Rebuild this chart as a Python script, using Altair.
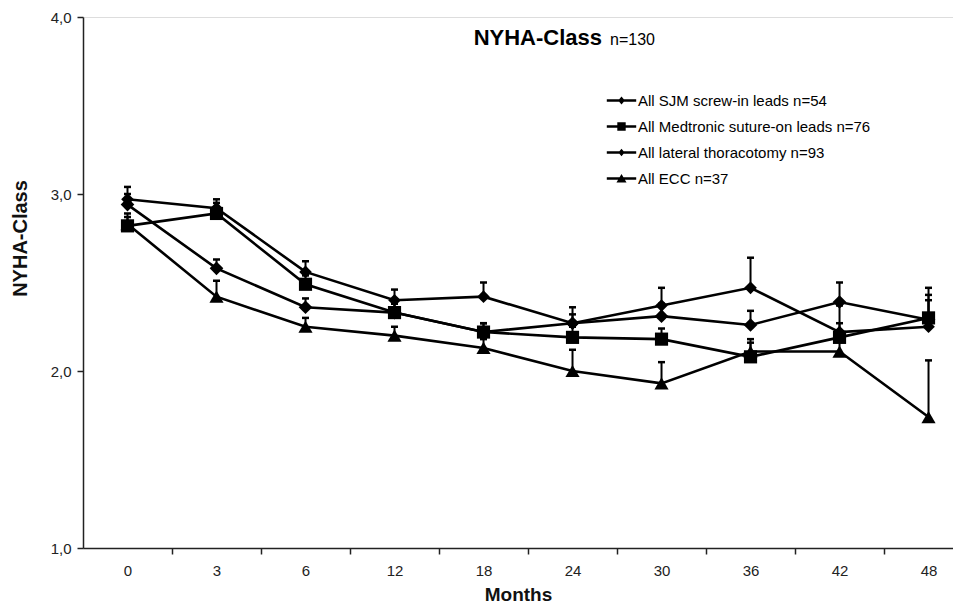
import altair as alt
import pandas as pd

months = ["0", "3", "6", "12", "18", "24", "30", "36", "42", "48"]
series_names = [
    "All SJM screw-in leads n=54",
    "All Medtronic suture-on leads n=76",
    "All lateral thoracotomy n=93",
    "All ECC n=37",
]
sjm = [2.97, 2.92, 2.56, 2.40, 2.42, 2.27, 2.37, 2.47, 2.22, 2.25]
sjm_err = [0.07, 0.05, 0.06, 0.06, 0.08, 0.09, 0.10, 0.17, 0.15, 0.18]
med = [2.82, 2.89, 2.49, 2.33, 2.22, 2.19, 2.18, 2.08, 2.19, 2.30]
med_err = [0.05, 0.06, 0.05, 0.05, 0.05, 0.06, 0.06, 0.08, 0.08, 0.17]
lat = [2.94, 2.58, 2.36, 2.33, 2.22, 2.27, 2.31, 2.26, 2.39, 2.29]
lat_err = [0.06, 0.05, 0.05, 0.05, 0.05, 0.05, 0.07, 0.08, 0.11, 0.11]
ecc = [2.83, 2.42, 2.25, 2.20, 2.13, 2.00, 1.93, 2.11, 2.11, 1.74]
ecc_err = [0.06, 0.09, 0.05, 0.05, 0.05, 0.12, 0.12, 0.07, 0.08, 0.32]

rows = []
for s, vals, errs in zip(series_names, [sjm, med, lat, ecc], [sjm_err, med_err, lat_err, ecc_err]):
    for i, (m, v, e) in enumerate(zip(months, vals, errs)):
        rows.append({"series": s, "idx": i, "month": m, "value": v, "top": round(v + e, 3)})
df = pd.DataFrame(rows)

FONT = "Liberation Sans"
month_js = "[" + ",".join("'%s'" % m for m in months) + "]"
x_values = [v / 2 for v in range(0, 19)]

x_scale = alt.Scale(domain=[-0.5, 9.275], nice=False, zero=False)
y_scale = alt.Scale(domain=[1, 4], nice=False, zero=False)

x_axis = alt.Axis(
    values=x_values,
    labelExpr="datum.value % 1 == 0 ? " + month_js + "[datum.value] : ''",
    tickOpacity={"condition": {"test": "datum.value % 1 == 0", "value": 0}, "value": 1},
    labelOverlap=False, labelFlush=False, labelBound=False,
    tickSize=6, labelPadding=9, labelFontSize=15, labelColor="#222",
    domainColor="#222", tickColor="#222", domainWidth=1.5, tickWidth=1.5,
    grid=False, title="Months", titleFontSize=19, titleFontWeight="bold",
    titleBaseline="middle", titleY=46, titleColor="#111",
)
y_axis = alt.Axis(
    values=[1, 2, 3, 4],
    labelExpr="replace(format(datum.value, '.1f'), '.', ',')",
    tickSize=6, labelPadding=6, labelFontSize=15, labelColor="#222",
    domainColor="#222", tickColor="#222", domainWidth=1.5, tickWidth=1.5,
    grid=False, title="NYHA-Class", titleFontSize=20, titleFontWeight="bold",
    titleBaseline="middle", titleX=-63, titleY=221, titleColor="#111",
)

X = alt.X("idx:Q", scale=x_scale, axis=x_axis)
base = alt.Chart(df)

# legend symbols: a thin filled bar (the line) plus the marker, all filled
bar = "M-1.4,-0.13L1.4,-0.13L1.4,0.13L-1.4,0.13Z"
legend_paths = [
    bar + "M0,-0.38L0.32,0L0,0.38L-0.32,0Z",
    bar + "M-0.4,-0.4L0.4,-0.4L0.4,0.4L-0.4,0.4Z",
    bar + "M0,-0.36L0.3,0L0,0.36L-0.3,0Z",
    bar + "M0,-0.44L0.48,0.38L-0.48,0.38Z",
]

lines = base.mark_line(color="black", strokeWidth=2.6).encode(
    x=X, y=alt.Y("value:Q", scale=y_scale, axis=y_axis), detail="series:N"
)
err = base.mark_rule(color="black", strokeWidth=2).encode(
    x=X, y=alt.Y("value:Q", scale=y_scale, axis=y_axis), y2="top:Q", detail="series:N"
)
caps = base.mark_point(shape="stroke", size=49, strokeWidth=2.5, color="black", opacity=1).encode(
    x=X, y=alt.Y("top:Q", scale=y_scale, axis=y_axis)
)
points = base.mark_point(filled=True, opacity=1, color="black").encode(
    x=X,
    y=alt.Y("value:Q", scale=y_scale, axis=y_axis),
    shape=alt.Shape("series:N", scale=alt.Scale(domain=series_names,
                    range=["diamond", "square", "diamond", "triangle-up"]), legend=None),
    size=alt.Size("series:N", scale=alt.Scale(domain=series_names, range=[160, 200, 140, 220]), legend=None),
)

legend_layer = base.transform_calculate(leg="datum.series").transform_filter("false").mark_point(
    filled=True, color="black", opacity=1
).encode(
    shape=alt.Shape("leg:N", scale=alt.Scale(domain=series_names, range=legend_paths),
                    legend=alt.Legend(title=None, orient="none", legendX=528, legendY=73,
                                      symbolSize=441, symbolFillColor="black", symbolStrokeWidth=0,
                                      labelFontSize=15, labelColor="black", symbolOpacity=1,
                                      labelOffset=6, rowPadding=7, padding=0, labelLimit=400))
)

title_df = pd.DataFrame({"t": ["NYHA-Class"], "n": ["n=130"]})
title_main = alt.Chart(title_df).mark_text(
    align="right", baseline="alphabetic", fontSize=22, fontWeight="bold", color="black", font=FONT
).encode(text="t:N", x=alt.value(519), y=alt.value(28))
title_n = alt.Chart(title_df).mark_text(
    align="left", baseline="alphabetic", fontSize=16, color="black", font=FONT
).encode(text="n:N", x=alt.value(527), y=alt.value(28))

chart = alt.layer(lines, err, caps, points, legend_layer, title_main, title_n).resolve_scale(
    shape="independent"
).properties(
    width=870, height=531,
    autosize=alt.AutoSizeParams(type="none"),
    padding={"left": 75, "top": 9, "right": 0, "bottom": 56},
    background="white",
).configure_view(stroke=None).configure(font=FONT)

chart.save("out.html", embed_options={"renderer": "svg", "actions": False})
